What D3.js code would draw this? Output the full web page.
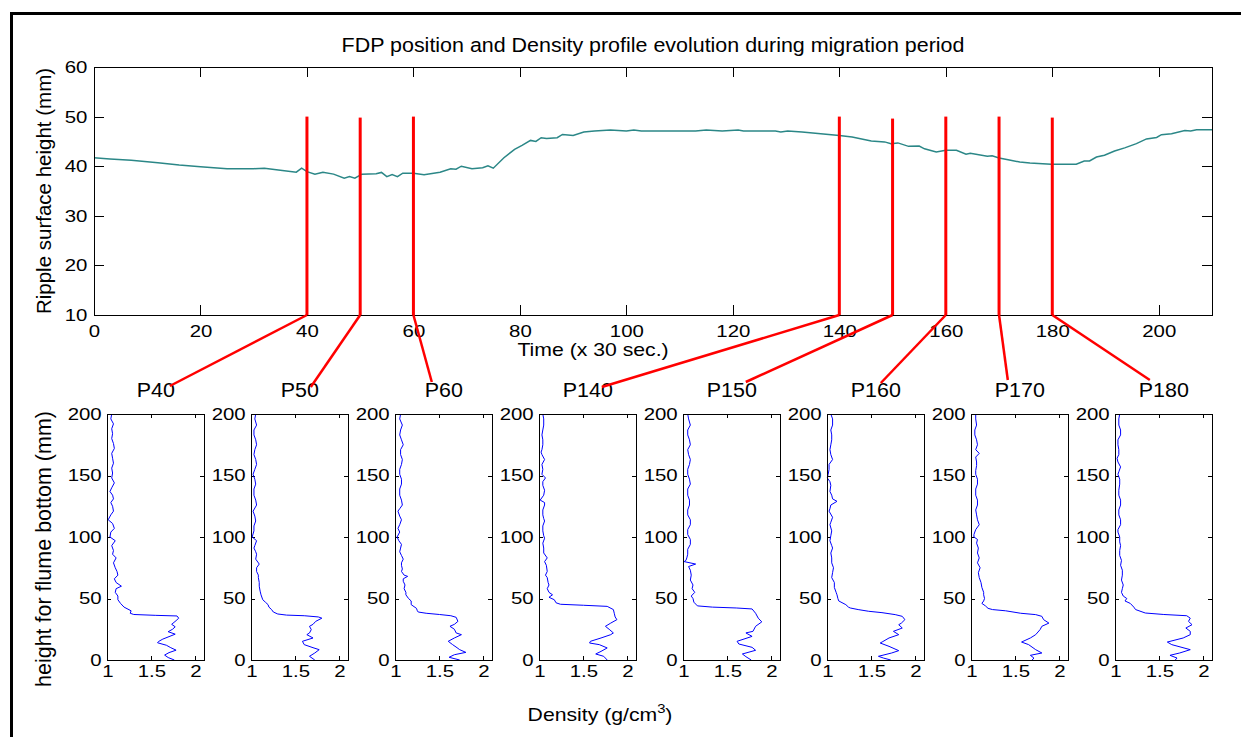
<!DOCTYPE html>
<meta charset="utf-8">
<style>
body { margin: 0; background: #fff; }
svg text { font-family: "Liberation Sans", Arial, Helvetica, sans-serif; fill: #000; }
.axis path.domain { display: none; }
.axis line { stroke: #000; stroke-width: 1px; shape-rendering: crispEdges; }
.frame { fill: none; stroke: #000; stroke-width: 1px; shape-rendering: crispEdges; }
.surface { fill: none; stroke: #2b8787; stroke-width: 1.5px; }
.profile { fill: none; stroke: #0000ff; stroke-width: 1px; }
.marker { stroke: #ff0000; stroke-width: 3px; }
.callout { stroke: #ff0000; stroke-width: 2.5px; }
</style>
<body>
<script src="https://d3js.org/d3.v7.min.js"></script>
<script>

// ---- data ----
// ripple surface height (mm) vs time (x 30 sec.)
var surfTime = [0,3,7,12,16,20,25,30,32,35,38,39,40,41.5,43,45,47,48,49,50.3,
  53,54,55,56,57,58,60,62,65,67,68,69,71,73,74,75,77,79,80.4,82,
  83,84,85,87,88,90,92,94,97,100,101.4,102.8,113,115,118,121,122,128,129,130.3,
  133,136.5,140,142.4,146,148.5,149.7,151,153,155,156,158.2,160,162,163.8,164.6,167.8,168.7,170,171.7,
  173.9,175.8,179.8,184.5,186,187,188.3,189.8,191.7,193.6,195.8,197.7,199.6,200.5,202.4,204.9,206,207.1,210];
var surfHeight = [41.7,41.45,41.2,40.7,40.25,39.9,39.5,39.5,39.6,39.2,38.8,39.6,38.9,38.4,38.8,38.4,37.6,37.9,37.6,38.4,
  38.5,38.75,37.9,38.3,37.9,38.6,38.6,38.3,38.8,39.5,39.4,40,39.5,39.7,40.1,39.6,41.7,43.4,44.2,45.2,
  45,45.75,45.6,45.75,46.4,46.2,46.9,47.1,47.3,47.1,47.3,47.1,47.1,47.3,47.1,47.3,47.1,47.1,46.9,47.1,
  46.9,46.55,46.2,45.9,45.1,44.9,44.55,44.7,44.0,44.05,43.5,42.85,43.2,43.2,42.4,42.6,42.0,42.1,41.65,41.3,
  40.85,40.65,40.4,40.4,41.05,41.05,41.85,42.2,43.05,43.7,44.55,45.5,45.8,46.35,46.55,47.2,47.1,47.35,47.35];

// selected profile times and the top of their red markers
var profileTimes = [40, 50, 60, 140, 150, 160, 170, 180];
var markerTop = [50, 49.8, 50, 50, 49.6, 50, 50, 49.8];
var profileNames = ["P40", "P50", "P60", "P140", "P150", "P160", "P170", "P180"];

// density profiles: [height (mm), density (g/cm3)]
var p40 = [[200,1.05],[196,1.04],[192,1.07],[188,1.05],[184,1.06],[180,1.05],[176,1.07],[172,1.08],[168,1.05],[164,1.06],
  [160,1.07],[156,1.05],[152,1.06],[148,1.05],[144,1.08],[140,1.05],[137,1.03],[134,1.06],[131,1.07],[128,1.04],
  [125,1.06],[121,1.07],[118,1.04],[114,1.01],[111,1.06],[107,1.08],[104,1.04],[100,1.03],[97,1.09],[93,1.05],
  [89,1.07],[86,1.06],[83,1.10],[79,1.07],[75,1.09],[72,1.11],[69,1.12],[66,1.08],[63,1.10],[60,1.16],
  [58,1.10],[55,1.09],[52,1.12],[49,1.12],[46,1.15],[43,1.19],[40,1.27],[38,1.26],[37,1.30],[36.3,1.55],
  [35.8,1.79],[34,1.81],[32,1.78],[29,1.73],[27,1.77],[25,1.74],[23,1.69],[21,1.77],[19,1.70],[17,1.63],
  [15,1.58],[14,1.57],[12,1.67],[10,1.72],[8,1.78],[6,1.70],[4,1.65],[2,1.69],[0,1.76]];
var p50 = [[200,1.05],[196,1.04],[191,1.06],[187,1.03],[183,1.03],[179,1.05],[175,1.06],[171,1.04],[167,1.03],[163,1.05],
  [159,1.06],[155,1.04],[151,1.02],[147,1.04],[143,1.05],[139,1.03],[134,1.03],[130,1.05],[126,1.06],[121,1.02],
  [117,1.04],[113,1.05],[109,1.03],[105,1.03],[100,1.01],[97,1.06],[93,1.04],[91,1.03],[88,1.05],[86,1.06],
  [82,1.05],[78,1.09],[75,1.06],[72,1.06],[69,1.08],[67,1.08],[63,1.09],[60,1.09],[56,1.10],[53,1.11],
  [49,1.13],[47,1.16],[45,1.19],[43,1.20],[41,1.23],[39,1.25],[37.4,1.30],[36.5,1.40],[36,1.60],[35,1.76],
  [34,1.80],[31.4,1.73],[29,1.70],[27.4,1.66],[24.7,1.68],[22,1.66],[20.6,1.63],[17.9,1.70],[15.2,1.58],[12.5,1.60],
  [10,1.70],[8.4,1.77],[5.7,1.72],[3,1.66],[0,1.72]];
var p60 = [[200,1.06],[196,1.05],[191,1.08],[187,1.06],[183,1.05],[179,1.07],[175,1.09],[171,1.06],[167,1.06],[163,1.08],
  [159,1.07],[155,1.05],[151,1.05],[147,1.07],[143,1.07],[139,1.05],[134,1.05],[130,1.07],[126,1.08],[123,1.05],
  [121,1.03],[117,1.05],[114,1.07],[110,1.05],[107,1.03],[104,1.05],[100,1.02],[97,1.04],[94,1.07],[91,1.06],
  [88,1.05],[85,1.07],[82,1.09],[79,1.07],[77,1.07],[74,1.08],[72,1.07],[69,1.10],[68,1.14],[66,1.09],
  [64,1.09],[61,1.11],[58,1.10],[55,1.12],[53,1.12],[50,1.15],[48,1.18],[45,1.18],[42,1.24],[40,1.25],
  [39,1.26],[38,1.35],[37,1.50],[36,1.63],[34.7,1.69],[31.4,1.71],[29,1.67],[27.4,1.62],[25,1.67],[22,1.69],
  [20.6,1.75],[17.9,1.67],[15.2,1.60],[12.5,1.65],[10,1.70],[8.4,1.73],[6.2,1.80],[4.3,1.67],[2.2,1.61],[0,1.73]];
var p140 = [[200,1.04],[196,1.05],[191,1.05],[187,1.04],[183,1.03],[179,1.04],[175,1.04],[171,1.03],[169,1.02],[167,1.03],
  [163,1.06],[159,1.03],[155,1.04],[151,1.03],[148,1.07],[145,1.04],[142,1.04],[138,1.06],[134,1.05],[130,1.01],
  [128,1.06],[126,1.06],[122,1.04],[118,1.04],[115,1.05],[113,1.06],[109,1.04],[105,1.04],[101,1.05],[99,1.06],
  [95,1.04],[91,1.05],[87,1.05],[83,1.09],[80,1.06],[77,1.08],[72,1.09],[69,1.07],[67,1.09],[63,1.10],
  [61,1.11],[58,1.09],[55,1.11],[53,1.15],[51,1.11],[49,1.17],[46.5,1.19],[45.3,1.24],[44.5,1.50],[43.6,1.77],
  [41,1.84],[38,1.85],[35,1.86],[32.8,1.88],[30,1.81],[27.4,1.75],[24.5,1.80],[22,1.84],[20.6,1.81],[17.9,1.70],
  [15.2,1.58],[13.8,1.57],[12.5,1.68],[9.8,1.77],[7,1.70],[4.9,1.64],[3,1.73],[0,1.77]];
var p150 = [[200,1.05],[196,1.06],[191,1.08],[187,1.05],[183,1.05],[179,1.07],[175,1.08],[171,1.05],[167,1.06],[163,1.08],
  [159,1.07],[155,1.05],[151,1.05],[147,1.07],[143,1.08],[139,1.05],[134,1.05],[130,1.07],[126,1.07],[122,1.05],
  [118,1.05],[114,1.08],[110,1.08],[106,1.05],[102,1.05],[98,1.08],[94,1.08],[90,1.05],[86,1.05],[83,1.04],
  [81,1.03],[80,1.01],[78,1.14],[76,1.06],[73,1.08],[69,1.09],[65,1.08],[61,1.11],[58,1.10],[55,1.13],
  [52,1.09],[50,1.11],[47,1.12],[45.5,1.14],[44,1.16],[43,1.33],[42.3,1.60],[41.5,1.78],[38,1.82],[34,1.85],
  [31,1.89],[27.4,1.82],[23.3,1.79],[22,1.71],[19.2,1.78],[15.2,1.61],[13,1.63],[10.3,1.78],[7.9,1.82],[4.9,1.67],
  [2.7,1.71],[0,1.77]];
var p160 = [[200,1.04],[196,1.06],[191,1.06],[187,1.04],[183,1.05],[179,1.05],[175,1.04],[171,1.03],[167,1.04],[163,1.06],
  [159,1.02],[155,1.02],[151,1.01],[148,1.00],[145,1.03],[142,1.04],[137,1.03],[134,1.05],[131,1.06],[129,1.11],
  [126,1.04],[123,1.03],[121,1.02],[116,1.06],[112,1.04],[110,1.03],[105,1.05],[101,1.04],[97,1.03],[93,1.05],
  [91,1.06],[87,1.04],[83,1.05],[79,1.05],[75,1.07],[71,1.06],[67,1.05],[63,1.08],[59,1.08],[55,1.10],
  [53,1.11],[50,1.12],[48,1.13],[45,1.21],[43,1.24],[42.3,1.26],[41,1.35],[39.6,1.47],[38.5,1.62],[36.9,1.77],
  [35.5,1.85],[32.8,1.88],[30,1.84],[28.7,1.81],[26,1.85],[23.3,1.75],[20.6,1.81],[17.9,1.70],[15,1.63],[13.8,1.60],
  [11.1,1.70],[7.6,1.81],[5.7,1.73],[3,1.58],[1.5,1.64],[0,1.72]];
var p170 = [[200,1.05],[196,1.05],[191,1.06],[187,1.04],[183,1.04],[179,1.06],[175,1.07],[171,1.05],[168,1.09],[165,1.05],
  [161,1.06],[158,1.06],[154,1.05],[151,1.05],[147,1.07],[143,1.07],[139,1.05],[134,1.05],[130,1.07],[126,1.07],
  [122,1.05],[118,1.06],[114,1.07],[110,1.09],[106,1.05],[102,1.03],[100,1.03],[98,1.07],[95,1.06],[91,1.08],
  [87,1.07],[83,1.09],[79,1.07],[75,1.10],[71,1.08],[67,1.09],[63,1.11],[59,1.12],[55,1.14],[53,1.14],
  [50,1.15],[48,1.14],[46,1.12],[44,1.16],[42,1.19],[41,1.24],[40,1.39],[38,1.56],[36.9,1.73],[35.5,1.80],
  [32.8,1.82],[30,1.88],[27.4,1.80],[24.7,1.78],[20.6,1.73],[17.9,1.67],[14.6,1.57],[12.5,1.65],[8.4,1.73],[5.7,1.80],
  [3.8,1.67],[1.6,1.71],[0,1.69]];
var p180 = [[200,1.05],[196,1.04],[191,1.04],[187,1.06],[183,1.06],[179,1.03],[175,1.03],[171,1.04],[167,1.04],[164,1.02],
  [161,1.03],[157,1.06],[153,1.04],[151,1.03],[147,1.05],[143,1.05],[138,1.04],[134,1.04],[130,1.06],[126,1.06],
  [122,1.04],[118,1.04],[114,1.06],[110,1.06],[106,1.03],[104,1.03],[100,1.05],[96,1.05],[93,1.06],[89,1.05],
  [85,1.05],[81,1.07],[77,1.06],[73,1.08],[69,1.08],[65,1.07],[61,1.09],[58,1.08],[55,1.07],[52,1.09],
  [50,1.13],[48,1.11],[46,1.17],[43,1.21],[41,1.23],[38.2,1.34],[37,1.55],[36,1.81],[34,1.85],[31.4,1.83],
  [28.7,1.87],[26,1.80],[23.3,1.85],[20.6,1.85],[17.9,1.77],[14.6,1.59],[12.5,1.64],[8.4,1.85],[5.7,1.73],[3.8,1.62],
  [1.6,1.70],[0,1.68]];
var profiles = [p40, p50, p60, p140, p150, p160, p170, p180];

var surfTicksX = [0, 20, 40, 60, 80, 100, 120, 140, 160, 180, 200];
var surfTicksY = [10, 20, 30, 40, 50, 60];
var densTicks = [1, 1.5, 2];
var depthTicks = [0, 50, 100, 150, 200];

// ---- layout ----
var SX = 1.2;   // horizontal text stretch of the original figure
var svg = d3.select("body").append("svg")
    .attr("width", 1241)
    .attr("height", 737);

// figure border
svg.append("rect")
    .attr("x", 11.5).attr("y", 13.5)
    .attr("width", 1300).attr("height", 800)
    .attr("fill", "none").attr("stroke", "#000").attr("stroke-width", 3);

function addText(x, y, str, size, sx, anchor) {
  return svg.append("text")
      .attr("transform", "translate(" + x + "," + y + ") scale(" + sx + ",1)")
      .attr("text-anchor", anchor || "middle")
      .style("font-size", size + "px")
      .text(str);
}

// ---- top panel ----
var main = {left: 94, top: 67, width: 1118, height: 248};
var x = d3.scaleLinear().domain([0, 210]).range([0, main.width]);
var y = d3.scaleLinear().domain([10, 60]).range([main.height, 0]);

var g = svg.append("g")
    .attr("transform", "translate(" + main.left + "," + main.top + ")");

g.append("g").attr("class", "axis")
    .attr("transform", "translate(0," + main.height + ")")
    .call(d3.axisBottom(x).tickValues(surfTicksX).tickSizeInner(-10).tickSizeOuter(0).tickPadding(10))
  .selectAll("text").style("font-size", "17px").attr("transform", "scale(" + SX + ",1)");
g.append("g").attr("class", "axis")
    .call(d3.axisTop(x).tickValues(surfTicksX).tickSizeInner(-10).tickSizeOuter(0).tickFormat(""));
g.append("g").attr("class", "axis")
    .call(d3.axisLeft(y).tickValues(surfTicksY).tickSizeInner(-10).tickSizeOuter(0).tickPadding(5.5))
  .selectAll("text").style("font-size", "17px").attr("transform", "scale(" + SX + ",1)");
g.append("g").attr("class", "axis")
    .attr("transform", "translate(" + main.width + ",0)")
    .call(d3.axisRight(y).tickValues(surfTicksY).tickSizeInner(-10).tickSizeOuter(0).tickFormat(""));
g.selectAll(".axis text").attr("fill", "#000");

var surfData = surfTime.map(function(t, i) { return {t: t, h: surfHeight[i]}; });
g.append("path")
    .datum(surfData)
    .attr("class", "surface")
    .attr("d", d3.line()
      .x(function(d) { return x(d.t); })
      .y(function(d) { return y(d.h); }));

g.append("rect").attr("class", "frame")
    .attr("width", main.width).attr("height", main.height);

addText(653, 51.5, "FDP position and Density profile evolution during migration period", 19.5, 1.1);
addText(593, 356, "Time (x 30 sec.)", 18.6, 1.14);
svg.append("text")
    .attr("transform", "translate(50.5," + (main.top + main.height / 2) + ") rotate(-90)")
    .attr("text-anchor", "middle")
    .style("font-size", "20.5px")
    .text("Ripple surface height (mm)");

// ---- density panels ----
var panel = {left0: 107.3, step: 144, top: 414, width: 97, height: 246};
var dx = d3.scaleLinear().domain([1, 2.1]).range([0, panel.width]);
var dy = d3.scaleLinear().domain([0, 200]).range([panel.height, 0]);
var line = d3.line()
    .x(function(d) { return dx(d[1]); })
    .y(function(d) { return dy(d[0]); });

// callout anchors relative to each panel title
var calloutDx = [14, 11, -12, 14, 14, 5, -12, -14];
var calloutDy = [-11, -10, -15, -10, -15, -14, -17, -17];

profiles.forEach(function(prof, i) {
  var left = panel.left0 + panel.step * i;
  var pg = svg.append("g").attr("transform", "translate(" + left + "," + panel.top + ")");

  pg.append("g").attr("class", "axis")
      .attr("transform", "translate(0," + panel.height + ")")
      .call(d3.axisBottom(dx).tickValues(densTicks).tickSizeInner(-4).tickSizeOuter(0).tickPadding(5).tickFormat(d3.format("")))
    .selectAll("text").style("font-size", "17px").attr("transform", "scale(" + SX + ",1)");
  pg.append("g").attr("class", "axis")
      .call(d3.axisTop(dx).tickValues(densTicks).tickSizeInner(-4).tickSizeOuter(0).tickFormat(""));
  pg.append("g").attr("class", "axis")
      .call(d3.axisLeft(dy).tickValues(depthTicks).tickSizeInner(-4).tickSizeOuter(0).tickPadding(4.7))
    .selectAll("text").style("font-size", "17px").attr("transform", "scale(" + SX + ",1)");
  pg.append("g").attr("class", "axis")
      .attr("transform", "translate(" + panel.width + ",0)")
      .call(d3.axisRight(dy).tickValues(depthTicks).tickSizeInner(-4).tickSizeOuter(0).tickFormat(""));
  pg.selectAll(".axis text").attr("fill", "#000");

  pg.append("path").datum(prof).attr("class", "profile").attr("d", line);
  pg.append("rect").attr("class", "frame").attr("width", panel.width).attr("height", panel.height);

  var cx = left + panel.width / 2;
  addText(cx, 397, profileNames[i], 19.5, 1.1);

  // red marker on the surface plot and callout to the panel title
  var mx = main.left + x(profileTimes[i]);
  svg.append("line").attr("class", "marker")
      .attr("x1", mx).attr("x2", mx)
      .attr("y1", main.top + y(markerTop[i])).attr("y2", main.top + y(10));
  svg.append("line").attr("class", "callout")
      .attr("x1", mx).attr("y1", main.top + y(10))
      .attr("x2", cx + calloutDx[i]).attr("y2", 397 + calloutDy[i]);
});

var dlab = addText(600, 721, "Density (g/cm", 18.6, 1.14);
dlab.append("tspan").attr("dy", -8).style("font-size", "13px").text("3");
dlab.append("tspan").attr("dy", 8).text(")");

svg.append("text")
    .attr("transform", "translate(50.5,549) rotate(-90)")
    .attr("text-anchor", "middle")
    .style("font-size", "21.5px")
    .text("height for flume bottom (mm)");

</script>
</body>
